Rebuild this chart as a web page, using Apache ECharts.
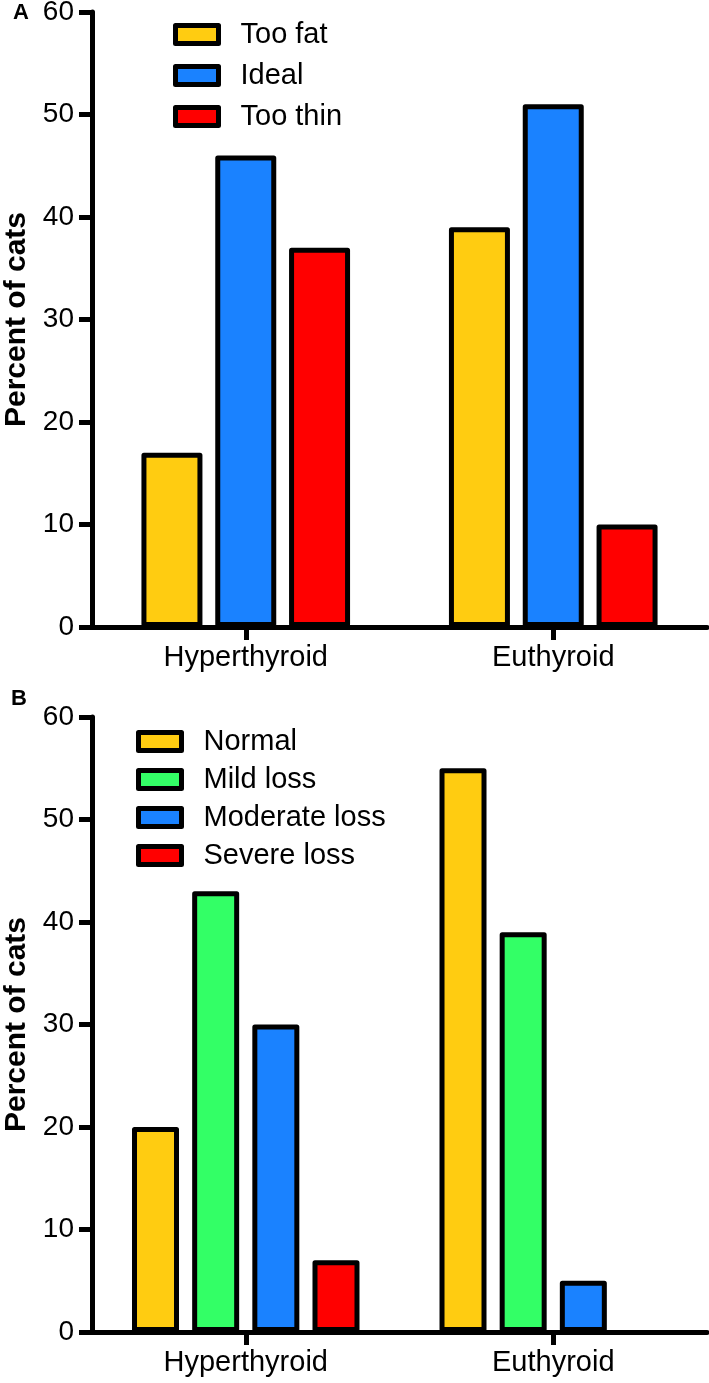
<!DOCTYPE html>
<html>
<head>
<meta charset="utf-8">
<script src="https://cdn.jsdelivr.net/npm/echarts@6/dist/echarts.min.js"></script>
<style>
html,body{margin:0;padding:0;background:#fff;}
#chart{width:709px;height:1383px;}
</style>
</head>
<body>
<div id="chart"></div>
<script>
var categories = ['Hyperthyroid', 'Euthyroid'];
var yTicks = [0, 10, 20, 30, 40, 50, 60];

// Panel A: body condition
var seriesA = ['Too fat', 'Ideal', 'Too thin'];
var tooFat = [17, 39];
var ideal = [46, 51];
var tooThin = [37, 10];

// Panel B: muscle condition
var seriesB = ['Normal', 'Mild loss', 'Moderate loss', 'Severe loss'];
var normal = [20, 55];
var mildLoss = [43, 39];
var moderateLoss = [30, 5];
var severeLoss = [7, 0];

var YELLOW = '#FFCC11', BLUE = '#1A82FF', RED = '#FF0000', GREEN = '#33FF66';
var FONT = '"Liberation Sans", Arial, Helvetica, sans-serif';

function xAxis(gi) {
  return {
    type: 'category', gridIndex: gi, data: categories, z: 5,
    axisLine: {lineStyle: {color: '#000', width: 5}},
    axisTick: {show: true, alignWithLabel: true, length: 13, lineStyle: {color: '#000', width: 5}},
    axisLabel: {color: '#000', fontSize: 29, fontFamily: FONT, margin: 16},
    splitLine: {show: false}
  };
}
function yAxis(gi) {
  return {
    type: 'value', gridIndex: gi, min: yTicks[0], max: yTicks[yTicks.length - 1], interval: 10, z: 5,
    name: 'Percent of cats', nameLocation: 'middle', nameRotate: 90, nameGap: 58,
    nameTextStyle: {color: '#000', fontSize: 30, fontWeight: 'bold', fontFamily: FONT},
    axisLine: {show: true, lineStyle: {color: '#000', width: 5}},
    axisTick: {show: true, length: 13, lineStyle: {color: '#000', width: 5}},
    axisLabel: {color: '#000', fontSize: 28, fontFamily: FONT, margin: 18},
    splitLine: {show: false}
  };
}
function bar(name, data, color, gi, width, gap) {
  return {
    type: 'bar', name: name, xAxisIndex: gi, yAxisIndex: gi,
    data: data.map(function (v) {
      return v === 0 ? {value: v, itemStyle: {opacity: 0}} : v;
    }),
    barWidth: width, barGap: gap, z: 2,
    itemStyle: {color: color, borderColor: '#000', borderWidth: 5, borderJoin: 'round'},
    emphasis: {disabled: true}
  };
}
function legend(names, left, top, gap) {
  return {
    data: names, orient: 'vertical', left: left, top: top, padding: 0,
    icon: 'rect', itemWidth: 43, itemHeight: 18, itemGap: gap,
    itemStyle: {borderColor: '#000', borderWidth: 5, opacity: 1},
    textStyle: {color: '#000', fontSize: 29, fontFamily: FONT, lineHeight: 29, padding: [0, 0, 0, 17]},
    selectedMode: false
  };
}

var chart = echarts.init(document.getElementById('chart'), null, {renderer: 'canvas'});
chart.setOption({
  backgroundColor: '#fff',
  animation: false,
  title: [
    {text: 'A', left: 13, top: 2, padding: 0, textStyle: {fontSize: 22, fontWeight: 'bold', color: '#000', fontFamily: FONT}},
    {text: 'B', left: 11, top: 688, padding: 0, textStyle: {fontSize: 22, fontWeight: 'bold', color: '#000', fontFamily: FONT}}
  ],
  grid: [
    {left: 92, top: 12, width: 615, height: 615, outerBoundsMode: 'none'},
    {left: 92, top: 717, width: 615, height: 615, outerBoundsMode: 'none'}
  ],
  legend: [
    legend(seriesA, 173, 20, 12),
    legend(seriesB, 136, 727, 9)
  ],
  xAxis: [xAxis(0), xAxis(1)],
  yAxis: [yAxis(0), yAxis(1)],
  series: [
    bar(seriesA[0], tooFat, YELLOW, 0, 61, '21%'),
    bar(seriesA[1], ideal, BLUE, 0, 61, '21%'),
    bar(seriesA[2], tooThin, RED, 0, 61, '21%'),
    bar(seriesB[0], normal, YELLOW, 1, 47, '28%'),
    bar(seriesB[1], mildLoss, GREEN, 1, 47, '28%'),
    bar(seriesB[2], moderateLoss, BLUE, 1, 47, '28%'),
    bar(seriesB[3], severeLoss, RED, 1, 47, '28%')
  ]
});
</script>
</body>
</html>
